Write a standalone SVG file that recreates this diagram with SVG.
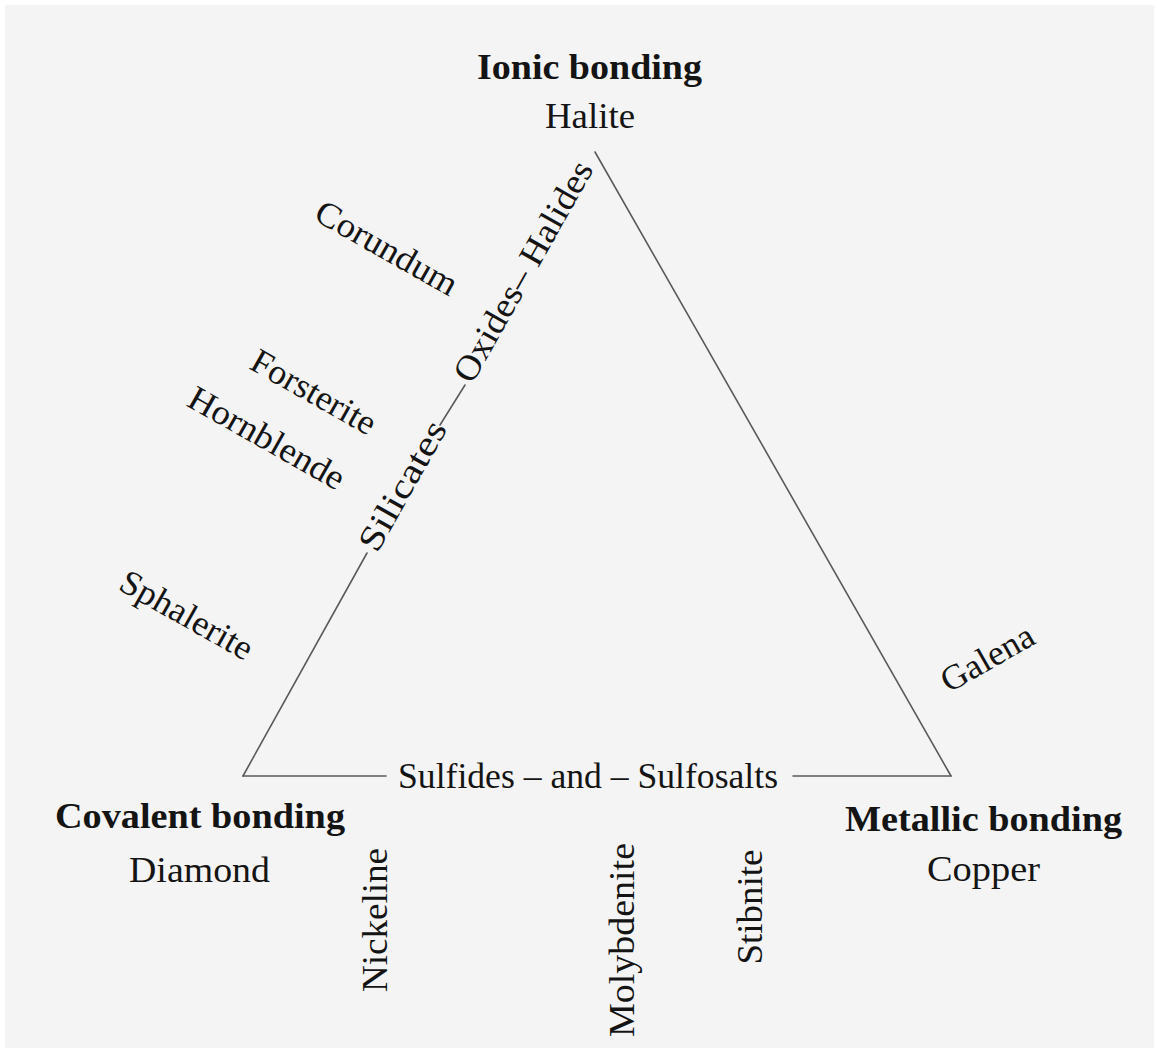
<svg xmlns="http://www.w3.org/2000/svg" width="1159" height="1053" viewBox="0 0 1159 1053">
  <style>
    text { font-family: "Liberation Serif", "Times New Roman", serif; fill: #141414; font-size: 35px; }
    .b { font-weight: bold; }
    .edge { stroke: #5a5a5a; stroke-width: 1.6; fill: none; stroke-linecap: round; }
  </style>

  <!-- page -->
  <rect x="0" y="0" width="1159" height="1053" fill="#ffffff"/>
  <rect x="5" y="5" width="1149" height="1043" fill="#f4f4f4"/>

  <!-- triangle edges, broken where the class labels sit -->
  <g id="connectors">
    <line class="edge" x1="243" y1="776" x2="367" y2="553"/>
    <line class="edge" x1="440" y1="425" x2="465" y2="385"/>
    <line class="edge" x1="595" y1="152" x2="951" y2="776"/>
    <line class="edge" x1="243" y1="776" x2="386" y2="776"/>
    <line class="edge" x1="793" y1="776" x2="951" y2="776"/>
  </g>

  <!-- corners -->
  <g id="ionic">
    <text class="b" x="477" y="79" textLength="225" lengthAdjust="spacingAndGlyphs">Ionic bonding</text>
    <text x="545" y="128" textLength="90" lengthAdjust="spacingAndGlyphs">Halite</text>
  </g>
  <g id="covalent">
    <text class="b" x="55" y="828" textLength="290" lengthAdjust="spacingAndGlyphs">Covalent bonding</text>
    <text x="129" y="882" textLength="141" lengthAdjust="spacingAndGlyphs">Diamond</text>
  </g>
  <g id="metallic">
    <text class="b" x="845" y="831" textLength="277" lengthAdjust="spacingAndGlyphs">Metallic bonding</text>
    <text x="927" y="881" textLength="113" lengthAdjust="spacingAndGlyphs">Copper</text>
  </g>

  <!-- mineral classes along the edges -->
  <g id="silicates">
    <text transform="translate(377,554) rotate(-60.5)" textLength="144" lengthAdjust="spacingAndGlyphs">Silicates</text>
  </g>
  <g id="oxides-halides">
    <text transform="translate(472,385) rotate(-60.5)" textLength="248" lengthAdjust="spacingAndGlyphs">Oxides– Halides</text>
  </g>
  <g id="sulfides">
    <text x="398" y="788" textLength="380" lengthAdjust="spacingAndGlyphs">Sulfides – and – Sulfosalts</text>
  </g>

  <!-- minerals -->
  <g id="corundum">
    <text transform="translate(381,258) rotate(29.5)" text-anchor="middle" textLength="158" lengthAdjust="spacingAndGlyphs">Corundum</text>
  </g>
  <g id="forsterite">
    <text transform="translate(308,402) rotate(29.5)" text-anchor="middle" textLength="138" lengthAdjust="spacingAndGlyphs">Forsterite</text>
  </g>
  <g id="hornblende">
    <text transform="translate(261,448) rotate(29.5)" text-anchor="middle" textLength="174" lengthAdjust="spacingAndGlyphs">Hornblende</text>
  </g>
  <g id="sphalerite">
    <text transform="translate(181,625) rotate(29.5)" text-anchor="middle" textLength="147" lengthAdjust="spacingAndGlyphs">Sphalerite</text>
  </g>
  <g id="galena">
    <text transform="translate(993,668) rotate(-29.7)" text-anchor="middle" textLength="102" lengthAdjust="spacingAndGlyphs">Galena</text>
  </g>
  <g id="nickeline">
    <text transform="translate(387,920) rotate(-90)" text-anchor="middle" textLength="144" lengthAdjust="spacingAndGlyphs">Nickeline</text>
  </g>
  <g id="molybdenite">
    <text transform="translate(634,940) rotate(-90)" text-anchor="middle" textLength="194" lengthAdjust="spacingAndGlyphs">Molybdenite</text>
  </g>
  <g id="stibnite">
    <text transform="translate(762,907) rotate(-90)" text-anchor="middle" textLength="115" lengthAdjust="spacingAndGlyphs">Stibnite</text>
  </g>
</svg>
